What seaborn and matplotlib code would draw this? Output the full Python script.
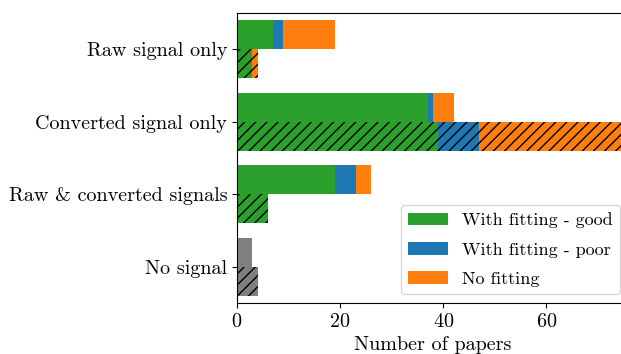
import pandas as pd
import seaborn as sns
import matplotlib.pyplot as plt
from matplotlib.patches import Patch

# categories and values
categories = ["Raw signal only", "Converted signal only",
              "Raw & converted signals", "No signal"]
subsets = ["solid", "hatched"]

good_solid = [7, 37, 19, 0]
poor_solid = [2, 1, 4, 0]
nofit_solid = [10, 4, 3, 0]
nosig_solid = [0, 0, 0, 3]

good_hatched = [3, 39, 6, 0]
poor_hatched = [0, 8, 0, 0]
nofit_hatched = [1, 33, 0, 0]
nosig_hatched = [0, 0, 0, 4]

c_good = "#2ca02c"
c_poor = "#1f77b4"
c_nofit = "#ff7f0e"
c_nosig = "#7f7f7f"

plt.rcParams["font.family"] = "cmr10"
plt.rcParams["mathtext.fontset"] = "cm"
plt.rcParams["axes.formatter.use_mathtext"] = True
plt.rcParams["hatch.color"] = "black"
plt.rcParams["hatch.linewidth"] = 1.0


def layer_frame(solid, hatched):
    rows = []
    for i, cat in enumerate(categories):
        rows.append({"category": cat, "subset": "solid", "value": solid[i]})
        rows.append({"category": cat, "subset": "hatched", "value": hatched[i]})
    return pd.DataFrame(rows)


# cumulative layers, drawn from the longest down so they look stacked
def cumsum(*parts):
    return [sum(v) for v in zip(*parts)]


layers = [
    (cumsum(good_solid, poor_solid, nofit_solid, nosig_solid),
     cumsum(good_hatched, poor_hatched, nofit_hatched, nosig_hatched), c_nosig),
    (cumsum(good_solid, poor_solid, nofit_solid),
     cumsum(good_hatched, poor_hatched, nofit_hatched), c_nofit),
    (cumsum(good_solid, poor_solid),
     cumsum(good_hatched, poor_hatched), c_poor),
    (good_solid, good_hatched, c_good),
]

fig = plt.figure(figsize=(6.21, 3.54), dpi=100)
# the original axes run a little past the right edge of the image
ax = fig.add_axes([0.3816, 0.144, 0.631, 0.819])

for solid, hatched, color in layers:
    df = layer_frame(solid, hatched)
    sns.barplot(data=df, x="value", y="category", hue="subset",
                hue_order=subsets, order=categories, orient="h",
                palette={"solid": color, "hatched": color}, saturation=1,
                errorbar=None, dodge=True, legend=False, width=0.8,
                edgecolor="black", linewidth=0, ax=ax)
    for bar in ax.containers[-1]:
        bar.set_hatch("///")

ax.set_xlim(0, 76)
ax.set_xticks([0, 20, 40, 60])
ax.set_ylabel("")
ax.set_xlabel("Number of papers", fontsize=14.5)
ax.tick_params(axis="both", labelsize=14.5)

handles = [Patch(facecolor=c_good, label="With fitting - good"),
           Patch(facecolor=c_poor, label="With fitting - poor"),
           Patch(facecolor=c_nofit, label="No fitting")]
ax.legend(handles=handles, loc="lower right", fontsize=13,
          handlelength=2.2, labelspacing=0.75)

fig.savefig("out.png", dpi=100)
